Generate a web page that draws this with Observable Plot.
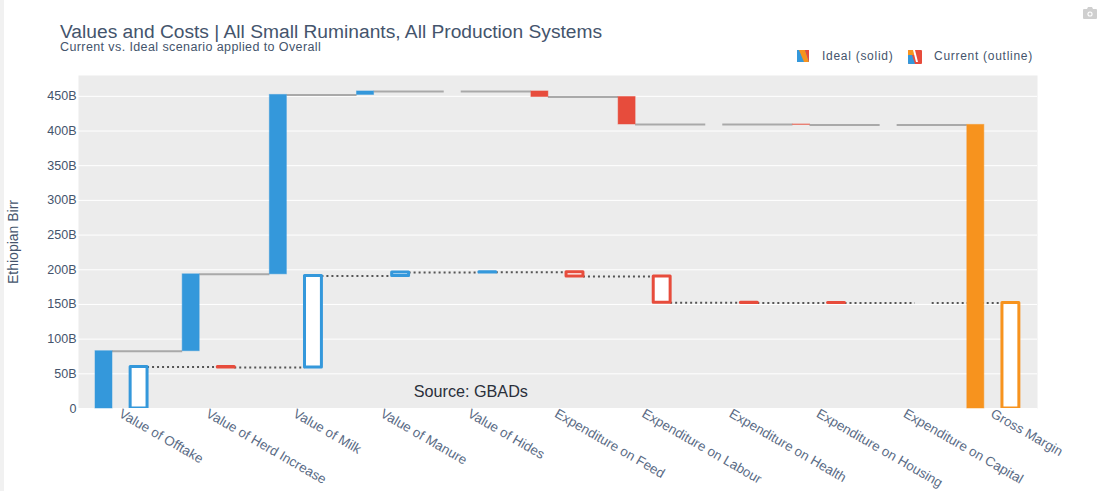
<!DOCTYPE html>
<html>
<head>
<meta charset="utf-8">
<script src="https://cdn.jsdelivr.net/npm/d3@7"></script>
<script src="https://cdn.jsdelivr.net/npm/@observablehq/plot@0.6"></script>
<style>
html,body{margin:0;padding:0;background:#fff;overflow:hidden;}
body{width:1108px;height:491px;font-family:"Liberation Sans",Arial,sans-serif;position:relative;}
#strip{position:absolute;left:0;top:0;width:4px;height:491px;background:#f1f1f1;}
#head{position:relative;height:75px;color:#2a3f5f;}
#title{position:absolute;left:60px;top:22px;font-size:19.2px;line-height:20px;color:#44546c;white-space:nowrap;}
#sub{position:absolute;left:60px;top:41px;font-size:12.5px;letter-spacing:.4px;line-height:13px;color:#44546c;white-space:nowrap;}
.lg{position:absolute;top:49px;font-size:12px;letter-spacing:.72px;line-height:14px;color:#44546c;white-space:nowrap;}
.sw{position:absolute;top:50px;}
#cam{position:absolute;left:1083px;top:7px;}
#chart svg{display:block;}
</style>
</head>
<body>
<div id="strip"></div>
<div id="head">
  <div id="title">Values and Costs | All Small Ruminants, All Production Systems</div>
  <div id="sub">Current vs. Ideal scenario applied to Overall</div>
  <svg class="sw" style="left:797px" width="12" height="12" viewBox="0 0 12 12"><rect width="12" height="12" fill="#3498db"/><path d="M2 0H8L12 12H7Z" fill="#f7931e"/><path d="M8 0H12V12Z" fill="#e74c3c"/></svg>
  <div class="lg" style="left:822px">Ideal (solid)</div>
  <svg class="sw" style="left:908px" width="14" height="14" viewBox="0 0 14 14"><rect width="14" height="14" rx="1" fill="#e74c3c"/><path d="M0 5H4L7 14H1Q0 14 0 13Z" fill="#3498db"/><path d="M1 0H6L7 5H0V1Q0 0 1 0Z" fill="#f7931e"/><path d="M5 0H7L10 12H8Z" fill="#fff"/></svg>
  <div class="lg" style="left:934px">Current (outline)</div>
  <svg id="cam" width="14" height="12" viewBox="0 0 14 12"><path d="M0 3Q0 2 1 2H4L5 0H9L10 2H13Q14 2 14 3V11Q14 12 13 12H1Q0 12 0 11Z" fill="#cfcfcf"/><circle cx="7" cy="7" r="2.6" fill="#fff"/><circle cx="7" cy="7" r="1.5" fill="#cfcfcf"/></svg>
</div>
<div id="chart"></div>
<script>
const categories = ["Value of Offtake","Value of Herd Increase","Value of Milk","Value of Manure","Value of Hides","Expenditure on Feed","Expenditure on Labour","Expenditure on Health","Expenditure on Housing","Expenditure on Capital","Gross Margin"];
// changes in billions of Ethiopian Birr; the last entry is the closing total
const idealChanges = [82.6, 110.8, 258.6, 5, 0, -8, -39.6, 0, -0.6, 0, 408.8];
const currentChanges = [60, -1, 132, 5, 0.3, -6, -37.8, -0.3, -0.3, 0, 152];
const yTicks = [0,50,100,150,200,250,300,350,400,450];
const colors = {up:"#3498db", down:"#e74c3c", total:"#f7931e"};
const sourceNote = "Source: GBADs";

function waterfall(changes, left, right){
  let run = 0;
  return changes.map((c,i)=>{
    const total = i === changes.length-1;
    const from = total ? 0 : run;
    const to = total ? c : run + c;
    run = to;
    return {i, from, to, zero: c === 0, x1:i+left, x2:i+right,
            color: total ? colors.total : (c >= 0 ? colors.up : colors.down)};
  });
}
function links(bars){
  return bars.slice(0,-1).map((b,k)=>({x1:b.x2, x2:bars[k+1].x1, y:b.to}));
}
const ideal = waterfall(idealChanges, -0.305, -0.11);
const current = waterfall(currentChanges, 0.098, 0.292);

const plot = Plot.plot({
  width:1108, height:416,
  marginLeft:78, marginRight:71, marginTop:0, marginBottom:83,
  style:{background:"transparent", fontFamily:"'Liberation Sans',Arial,sans-serif", fontSize:"12.5px"},
  x:{type:"linear", domain:[-0.5,10.5], axis:null},
  y:{domain:[0,480], axis:null},
  marks:[
    Plot.frame({fill:"#ececec", stroke:null}),
    Plot.gridY(yTicks,{stroke:"#fff", strokeOpacity:1, strokeWidth:1}),
    Plot.axisY(yTicks,{tickSize:0, tickPadding:2, tickFormat:d=>d===0?"0":`${d}B`, color:"#44546c", fontSize:12.5, label:null}),
    Plot.axisX(d3.range(categories.length),{anchor:"bottom", tickSize:0, tickPadding:4, dx:-2, tickRotate:30, tickFormat:i=>categories[i], color:"#5a6b85", fontSize:13.4, label:null}),
    Plot.ruleY(links(ideal),{x1:"x1", x2:"x2", y:"y", stroke:"#a9a9a9", strokeWidth:2}),
    Plot.ruleY(links(current),{x1:"x1", x2:"x2", y:"y", stroke:"#555", strokeWidth:2, strokeDasharray:"2,3"}),
    Plot.rect(ideal.filter(d=>!d.zero),{x1:"x1", x2:"x2", y1:"from", y2:"to", fill:"color", stroke:"color", strokeOpacity:0.5, strokeWidth:1, inset:0}),
    Plot.rect(current.filter(d=>!d.zero),{x1:"x1", x2:"x2", y1:"from", y2:"to", fill:"#fff", stroke:"color", strokeWidth:3, clip:true, strokeLinejoin:"round"}),
    Plot.text([sourceNote],{x:[4.0], y:[24.5], text:d=>d, fontSize:16.2, fill:"#2a2f3a", textAnchor:"middle"}),
    Plot.text(["Ethiopian Birr"],{frameAnchor:"left", dx:-65, rotate:-90, textAnchor:"middle", text:d=>d, fontSize:14, fill:"#44546c"})
  ]
});
document.getElementById("chart").appendChild(plot);
</script>
</body>
</html>
